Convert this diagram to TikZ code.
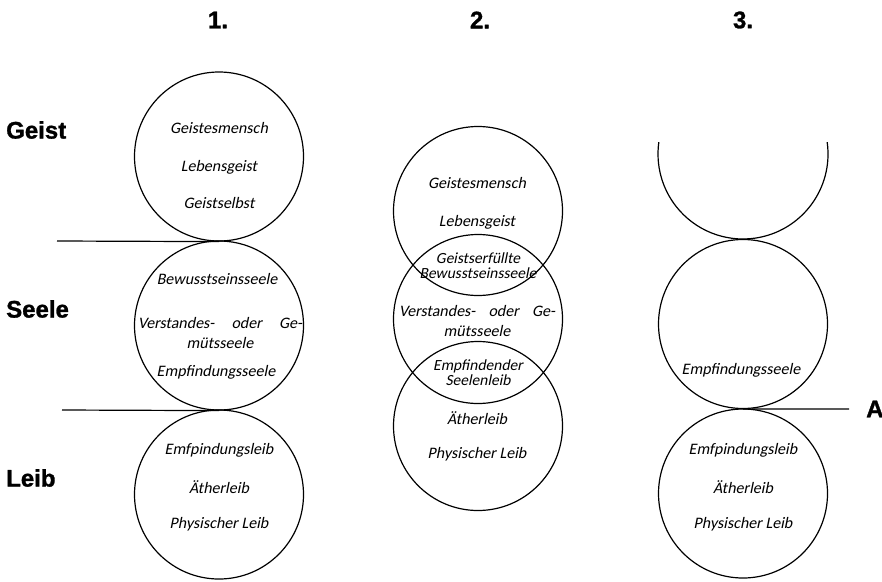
\documentclass[tikz,border=0pt]{standalone}
\usepackage{fontspec}
\setmainfont{Carlito}[ItalicFont=Carlito, ItalicFeatures={FakeSlant=0.2}]
\setsansfont{Liberation Sans}[BoldFeatures={FakeBold=1.2}]

\tikzset{
  ring/.style={circle, draw, line width=1.2pt, minimum size=169pt, inner sep=0pt},
  grenze/.style={line width=1.2pt},
  wort/.style={font=\fontsize{16}{20}\selectfont\itshape, inner sep=0pt, align=center},
  eng/.style={wort, font=\fontsize{15.5}{15}\selectfont\itshape},
  titel/.style={font=\fontsize{24}{24}\selectfont\sffamily\bfseries, inner sep=0pt}
}

\begin{document}
\begin{tikzpicture}[x=1pt, y=-1pt]
\useasboundingbox (0,0) rectangle (882,581);

% Nummern und Ebenen
\foreach \n/\x in {1/218, 2/480, 3/743}
  \node[titel] (num\n) at (\x,20) {\n.};
\node[titel, anchor=west] (geist) at (6,130) {Geist};
\node[titel, anchor=west] (seele) at (6,309) {Seele};
\node[titel, anchor=west] (leib) at (6,478) {Leib};

% Spalte 1
\node[ring] (geist1) at (219,156.5) {};
\node[ring] (seele1) at (219,325.5) {};
\node[ring] (leib1) at (219,494.5) {};
\coordinate (geistrand) at (57,241);
\coordinate (seelerand) at (62,410);
\draw[grenze] (geist1.south) -- (geistrand);
\draw[grenze] (seele1.south) -- (seelerand);

\node[wort] (gm1) at (219,128) {Geistesmensch};
\node[wort] (lg1) at (219,167) {Lebensgeist};
\node[wort] (gs1) at (219,203) {Geistselbst};
\node[wort] (bs1) at (217,279) {Bewusstseinsseele};
\node[wort] (vg1) at (220,333) {\makebox[164pt][s]{Verstandes- oder Ge-}\\mütsseele};
\node[wort] (es1) at (216,372) {Empfindungsseele};

% Spalte 2
\node[ring] (geist2) at (478,211) {};
\node[ring] (seele2) at (478,319) {};
\node[ring] (leib2) at (478,426) {};

\node[wort] (gm2) at (477,183) {Geistesmensch};
\node[wort] (lg2) at (477,222) {Lebensgeist};
\node[eng] (gb2) at (478,266) {Geistserfüllte\\Bewusstseinsseele};
\node[wort] (vg2) at (477,321) {\makebox[156pt][s]{Verstandes- oder Ge-}\\mütsseele};
\node[eng] (ep2) at (478,373) {Empfindender\\Seelenleib};
\node[wort] (al2) at (477,418) {Ätherleib};
\node[wort] (pl2) at (477,454) {Physischer Leib};

% Spalte 3
\coordinate (geist3) at (743,154);
\draw[grenze] (geist3) ++(-8:85) arc[start angle=-8, end angle=188, radius=85];
\node[ring] (seele3) at (743,324) {};
\node[ring] (leib3) at (743,493.5) {};
\coordinate (arand) at (849,409);
\draw[grenze] (seele3.south) -- (arand);
\node[titel, anchor=west] (a) at (866,409) {A};
\node[wort] (es3) at (741,370) {Empfindungsseele};

% Leib in Spalte 1 und 3
\foreach \c/\x in {1/219, 3/743} {
  \node[wort] (el\c) at (\x,450) {Emfpindungsleib};
  \node[wort] (al\c) at (\x,487) {Ätherleib};
  \node[wort] (pl\c) at (\x,524) {Physischer Leib};
}

\end{tikzpicture}
\end{document}
